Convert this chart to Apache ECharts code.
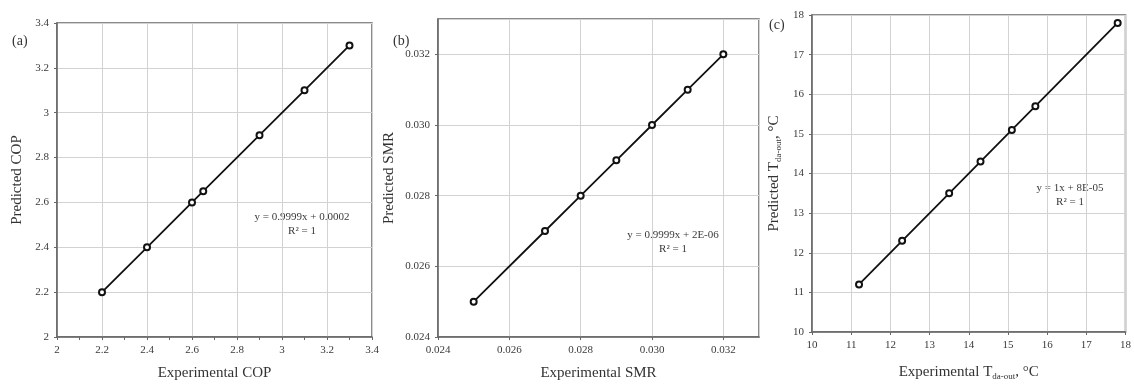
<!DOCTYPE html>
<html>
<head>
<meta charset="utf-8">
<script src="https://cdn.jsdelivr.net/npm/echarts@6/dist/echarts.min.js"></script>
<style>
  html, body { margin: 0; padding: 0; background: #fff; }
  #chart { width: 1134px; height: 386px; }
</style>
</head>
<body>
<div id="chart"></div>
<script>
// values
const copExp = [2.2, 2.4, 2.6, 2.65, 2.9, 3.1, 3.3];
const copPred = [2.2, 2.4, 2.6, 2.65, 2.9, 3.1, 3.3];
const smrExp = [0.025, 0.027, 0.028, 0.029, 0.030, 0.031, 0.032];
const smrPred = [0.025, 0.027, 0.028, 0.029, 0.030, 0.031, 0.032];
const tExp = [11.2, 12.3, 13.5, 14.3, 15.1, 15.7, 17.8];
const tPred = [11.2, 12.3, 13.5, 14.3, 15.1, 15.7, 17.8];

const fontFam = 'Liberation Serif, Times New Roman, serif';
const gridColor = '#d2d2d2';
const frameColor = '#666';

const pairs = (xs, ys) => xs.map((x, i) => [x, ys[i]]);

const axisBase = (idx, min, max, interval, fmt, extra) => Object.assign({
    type: 'value',
    gridIndex: idx,
    min: min,
    max: max,
    interval: interval,
    axisLine: { show: true, lineStyle: { color: frameColor, width: 1.5 } },
    axisTick: { show: true, length: 3, lineStyle: { color: frameColor } },
    splitLine: { show: true, lineStyle: { color: gridColor, width: 1 } },
    axisLabel: {
        fontFamily: fontFam,
        fontSize: 11,
        color: '#3a3a3a',
        formatter: fmt,
    },
    nameLocation: 'middle',
    nameTextStyle: { fontFamily: fontFam, fontSize: 15, color: '#333' },
}, extra);

const series = (idx, data) => ({
    type: 'line',
    xAxisIndex: idx,
    yAxisIndex: idx,
    data: data,
    symbol: 'circle',
    symbolSize: 6,
    showAllSymbol: true,
    lineStyle: { color: '#111', width: 1.8 },
    itemStyle: { color: '#fff', borderColor: '#111', borderWidth: 2 },
    silent: true,
    animation: false,
});

const fmtCop = v => (Math.round(v * 10) / 10).toString();
const fmtSmr = v => v.toFixed(3);
const fmtT = v => Math.round(v).toString();

// subscript for T_da-out
const subName = {
    fontFamily: fontFam, fontSize: 15, color: '#333', lineHeight: 18,
    rich: {
        s: { fontFamily: fontFam, fontSize: 9, color: '#333', verticalAlign: 'bottom', lineHeight: 8 },
    },
};

const txt = (x, y, text, size) => ({
    type: 'text',
    left: x,
    top: y,
    style: { text: text, fontFamily: fontFam, fontSize: size, fill: '#333' },
});

const eq = (x, y, text) => ({
    type: 'text',
    x: x,
    y: y,
    style: { text: text, fontFamily: fontFam, fontSize: 11, lineHeight: 14, fill: '#3a3a3a', textAlign: 'center' },
});

const option = {
    animation: false,
    grid: [
        { left: 57, top: 23, width: 315, height: 315, show: true, borderColor: frameColor, borderWidth: 1.5 },
        { left: 438, top: 19, width: 321, height: 321, show: true, borderColor: frameColor, borderWidth: 1.5 },
        { left: 812, top: 15, width: 315, height: 318, show: true, borderColor: frameColor, borderWidth: 1.5 },
    ],
    xAxis: [
        axisBase(0, 2, 3.4, 0.2, fmtCop, {
            name: 'Experimental COP', nameGap: 29,
            minorTick: { show: true, splitNumber: 2, length: 3, lineStyle: { color: frameColor } },
        }),
        axisBase(1, 0.024, 0.033, 0.002, fmtSmr, { name: 'Experimental SMR', nameGap: 29 }),
        axisBase(2, 10, 18, 1, fmtT, {
            name: 'Experimental T{s|da-out}, °C', nameGap: 31, nameTextStyle: subName,
        }),
    ],
    yAxis: [
        axisBase(0, 2, 3.4, 0.2, fmtCop, { name: 'Predicted COP', nameGap: 32 }),
        axisBase(1, 0.024, 0.033, 0.002, fmtSmr, { name: 'Predicted SMR', nameGap: 41 }),
        axisBase(2, 10, 18, 1, fmtT, {
            name: 'Predicted T{s|da-out}, °C', nameGap: 29, nameTextStyle: subName,
        }),
    ],
    series: [
        series(0, pairs(copExp, copPred)),
        series(1, pairs(smrExp, smrPred)),
        series(2, pairs(tExp, tPred)),
    ],
    graphic: [
        txt(12, 34, '(a)', 14),
        txt(393, 34, '(b)', 14),
        txt(769, 18, '(c)', 14),
        eq(302, 210, 'y = 0.9999x + 0.0002\nR² = 1'),
        eq(673, 228, 'y = 0.9999x + 2E-06\nR² = 1'),
        eq(1070, 181, 'y = 1x + 8E-05\nR² = 1'),
    ],
};

// panel (b) runs to 0.033 but only even steps carry labels
option.xAxis[1].axisLabel.showMaxLabel = false;
option.yAxis[1].axisLabel.showMaxLabel = false;

const chart = echarts.init(document.getElementById('chart'));
chart.setOption(option);
</script>
</body>
</html>
